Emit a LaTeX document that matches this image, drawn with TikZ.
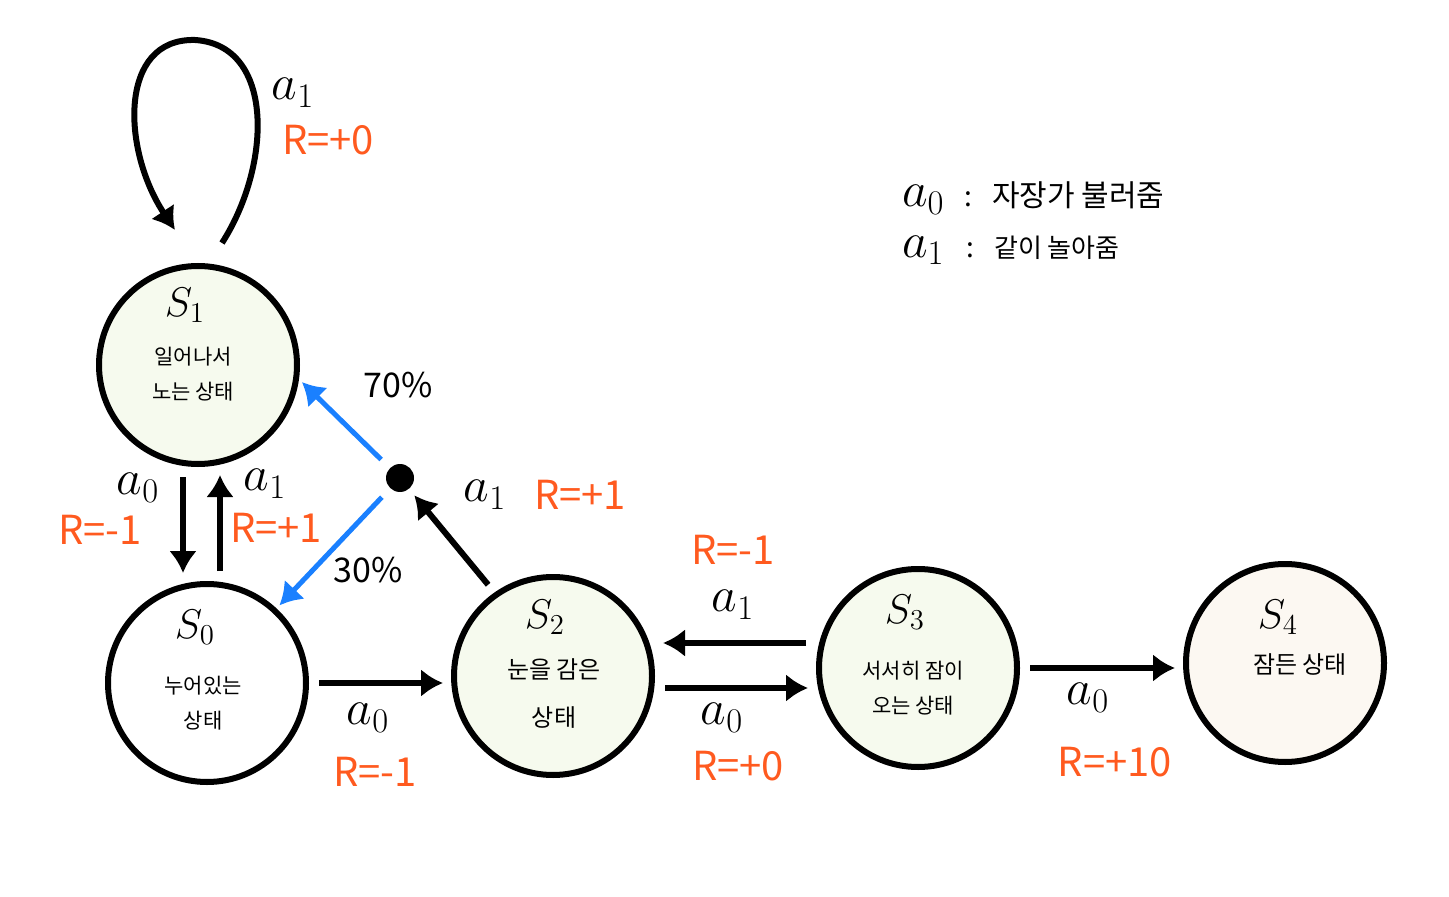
\documentclass[tikz,border=0pt]{standalone}
\usepackage{fontspec}
\setmainfont{Noto Sans CJK KR}
\usetikzlibrary{positioning,arrows.meta}
\definecolor{naranja}{HTML}{FF5A1F}
\definecolor{azul}{HTML}{1A80FF}
\definecolor{verde}{HTML}{F6FAEE}
\definecolor{crema}{HTML}{FCF8F2}

\begin{document}
\begin{tikzpicture}[
  x=0.5pt, y=-0.5pt,
  estado/.style={draw, circle, line width=3pt, minimum size=99pt, inner sep=0pt},
  punto/.style={circle, fill=black, minimum size=14pt, inner sep=0pt},
  nombre/.style={font=\fontsize{22}{26}\selectfont},
  texto/.style={align=center, font=\fontsize{10.5}{17.5}\selectfont},
  accion/.style={font=\fontsize{24}{28}\selectfont},
  premio/.style={text=naranja, font=\fontsize{20}{24}\selectfont},
  prob/.style={font=\fontsize{17}{20}\selectfont\itshape},
  flecha/.style={-{Latex[length=11pt,width=14pt]}, line width=3pt, shorten <=5pt, shorten >=4pt},
  flechaazul/.style={flecha, color=azul, line width=2.5pt, shorten <=6pt, shorten >=2pt}
]
\useasboundingbox (0,0) rectangle (1449,897);

% Estados
\node[estado, fill=verde] (s1) at (198,365) {};
\node[estado, fill=white] (s0) at (207,683) {};
\node[estado, fill=verde] (s2) at (553,676) {};
\node[estado, fill=verde] (s3) at (918,668) {};
\node[estado, fill=crema] (s4) at (1285,663) {};
\node[punto] (dot) at (400,478) {};

% Nombres y textos de los estados
\node[nombre] (n1) at (185,305) {$S_1$};
\node[texto] (t1) at (193,374) {일어나서\\노는 상태};
\node[nombre] (n0) at (195,627) {$S_0$};
\node[texto] (t0) at (203,703) {누어있는\\상태};
\node[nombre] (n2) at (545,617) {$S_2$};
\node[texto, font=\fontsize{12}{24}\selectfont] (t2) at (554,694) {눈을 감은\\상태};
\node[nombre] (n3) at (905,612) {$S_3$};
\node[texto] (t3) at (913,688) {서서히 잠이\\오는 상태};
\node[nombre] (n4) at (1278,617) {$S_4$};
\node[texto, font=\fontsize{12}{14}\selectfont] (t4) at (1300,665) {잠든 상태};

% Leyenda
\node[anchor=west] (ley0) at (895,198) {{\fontsize{26}{30}\selectfont$a_0$}\hspace{10pt}{\fontsize{14}{16}\selectfont :}\hspace{10pt}{\fontsize{15}{18}\selectfont 자장가 불러줌}};
\node[anchor=west] (ley1) at (895,250) {{\fontsize{26}{30}\selectfont$a_1$}\hspace{11pt}{\fontsize{14}{16}\selectfont :}\hspace{10pt}{\fontsize{13}{16}\selectfont 같이 놀아줌}};

% Bucle en S1
\draw[flecha, shorten <=0pt, shorten >=0pt] ([shift={(24,-20)}]s1.north) .. controls (272,165) and (275,45) .. (195,40)
  .. controls (118,38) and (122,150) .. ([shift={(-23,-33)}]s1.north);
\node[accion] (la1) at (293,93) {$a_1$};
\node[premio] (lr1) at (328,140) {R=+0};

% S1 <-> S0
\draw[flecha] ([xshift=-7.5pt]s1.south) -- ([xshift=-7.5pt]s1.south |- s0.north);
\draw[flecha] ([xshift=11pt]s1.south |- s0.north) -- ([xshift=11pt]s1.south);
\node[accion] (la0) at (138,488) {$a_0$};
\node[premio] (lr0) at (100,530) {R=-1};
\node[accion] (lb1) at (265,484) {$a_1$};
\node[premio] (lrb1) at (276,528) {R=+1};

% Transiciones desde el punto
\draw[flechaazul] (dot) -- (s1.-8);
\draw[flechaazul] (dot) -- (s0.47);
\node[prob] (p70) at (398,385) {70\%};
\node[prob] (p30) at (368,570) {30\%};
\draw[flecha] (s2.125) -- (dot);
\node[accion] (lc1) at (485,495) {$a_1$};
\node[premio] (lrc1) at (580,495) {R=+1};

% S0 -> S2
\draw[flecha] (s0.east) -- (s0.east -| s2.west);
\node[accion] (ld0) at (368,718) {$a_0$};
\node[premio] (lrd0) at (375,772) {R=-1};

% S2 <-> S3
\draw[flecha] ([yshift=12.5pt]s3.west) -- ([yshift=12.5pt]s3.west -| s2.east);
\node[premio] (lre1) at (733,550) {R=-1};
\node[accion] (le1) at (733,605) {$a_1$};
\draw[flecha] ([yshift=-10pt]s3.west -| s2.east) -- ([yshift=-10pt]s3.west);
\node[accion] (lf0) at (722,718) {$a_0$};
\node[premio] (lrf0) at (738,766) {R=+0};

% S3 -> S4
\draw[flecha] (s3.east) -- (s3.east -| s4.west);
\node[accion] (lg0) at (1088,698) {$a_0$};
\node[premio] (lrg0) at (1115,762) {R=+10};
\end{tikzpicture}
\end{document}
